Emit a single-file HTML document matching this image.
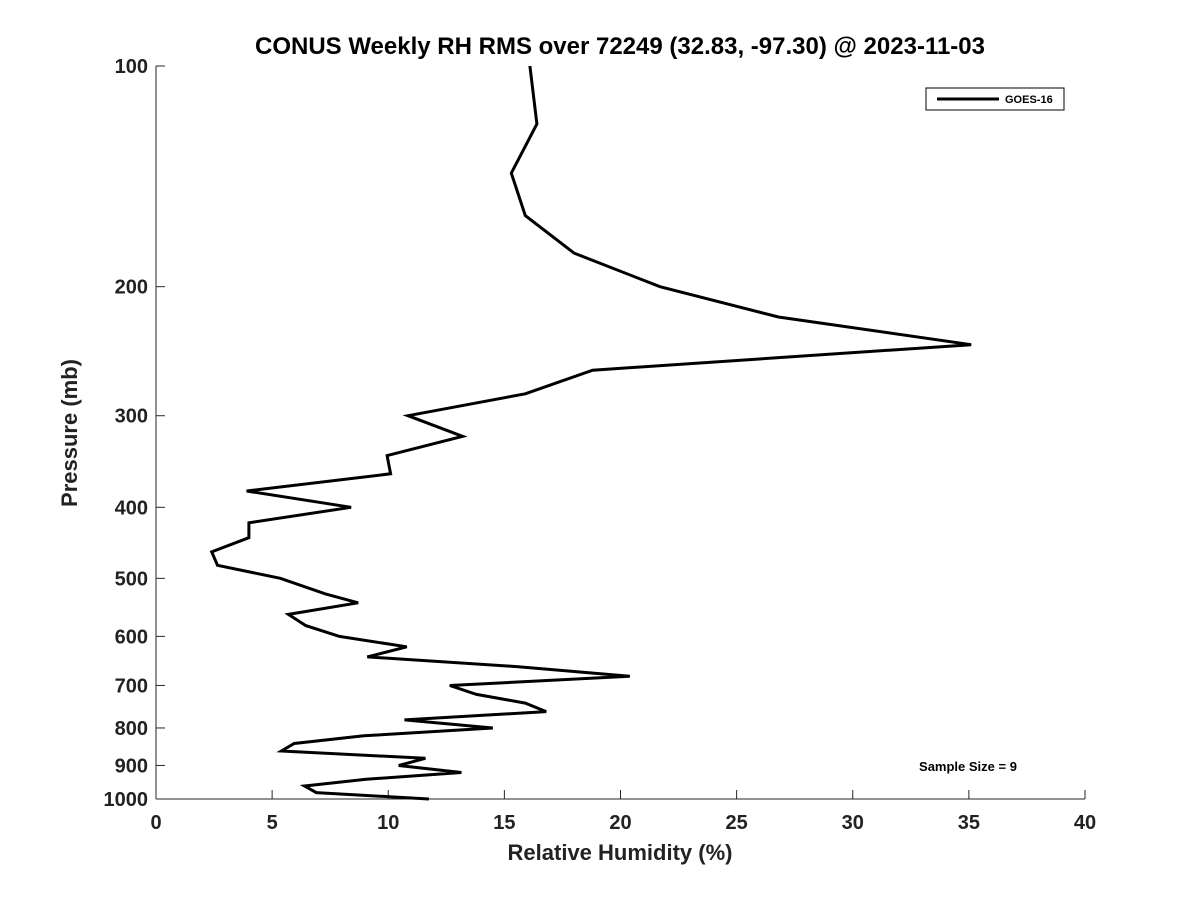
<!DOCTYPE html>
<html><head><meta charset="utf-8"><style>
body{margin:0;background:#fff;}
svg{display:block;font-family:"Liberation Sans","DejaVu Sans",sans-serif;}
</style></head><body>
<svg width="1200" height="900" xmlns="http://www.w3.org/2000/svg">
<rect width="1200" height="900" fill="#fff"/>
<text x="620" y="54" text-anchor="middle" font-size="24" font-weight="bold" fill="#000">CONUS Weekly RH RMS over 72249 (32.83, -97.30) @ 2023-11-03</text>
<g id="axes"></g>
<path id="line" fill="none" stroke="#000" stroke-width="3" stroke-linejoin="miter"/>
<g>
<rect x="926" y="88" width="138" height="22" fill="#fff" stroke="#000" stroke-width="1"/>
<line x1="937" y1="99" x2="999" y2="99" stroke="#000" stroke-width="3"/>
<text x="1005" y="103" font-size="11" font-weight="bold">GOES-16</text>
</g>
<text x="968" y="771" text-anchor="middle" font-size="13" font-weight="bold">Sample Size = 9</text>
<text x="620" y="860" text-anchor="middle" font-size="22" font-weight="bold" fill="#222">Relative Humidity (%)</text>
<text x="0" y="0" transform="translate(77,433) rotate(-90)" text-anchor="middle" font-size="22" font-weight="bold" fill="#222">Pressure (mb)</text>
</svg>
<script>
const pressures=[100,120,140,160,180,200,220,240,260,280,300,320,340,360,380,400,420,440,460,480,500,525,540,560,580,600,620,640,660,680,700,720,740,760,780,800,820,840,860,880,900,920,940,960,980,1000];
const rhValues=[16.1,16.4,15.3,15.9,18.0,21.7,26.8,35.1,18.8,15.9,10.85,13.2,9.95,10.1,3.9,8.4,4.0,4.0,2.4,2.65,5.35,7.3,8.7,5.7,6.45,7.9,10.8,9.1,15.6,20.4,12.65,13.8,15.9,16.8,10.7,14.5,8.95,5.95,5.4,11.6,10.45,13.15,9.05,6.4,6.9,11.75];
const xTicks=[0,5,10,15,20,25,30,35,40];
const yTicks=[100,200,300,400,500,600,700,800,900,1000];
const X0=156,X1=1085,Y0=66,Y1=799;
function xs(v){return X0+(v-0)/(40-0)*(X1-X0);}
function ys(p){return Y0+(Math.log10(p)-2)/(1)*(Y1-Y0);}
const NS="http://www.w3.org/2000/svg";
const ax=document.getElementById('axes');
function mk(t,a){const e=document.createElementNS(NS,t);for(const k in a)e.setAttribute(k,a[k]);ax.appendChild(e);return e;}
let e=mk('line',{x1:X0,y1:Y1,x2:X1,y2:Y1,stroke:'#262626','stroke-width':1});


e=mk('line',{x1:X0,y1:Y0,x2:X0,y2:Y1,stroke:'#262626','stroke-width':1});


xTicks.forEach(v=>{
 mk('line',{x1:xs(v),y1:Y1,x2:xs(v),y2:Y1-9,stroke:'#262626'});
 const t=mk('text',{x:xs(v),y:Y1+30,'text-anchor':'middle','font-size':20,'font-weight':'bold',fill:'#222'});
 t.textContent=v;
 
 
});
yTicks.forEach(p=>{
 mk('line',{x1:X0,y1:ys(p),x2:X0+9,y2:ys(p),stroke:'#262626'});
 const t=mk('text',{x:X0-8,y:ys(p)+7,'text-anchor':'end','font-size':20,'font-weight':'bold',fill:'#222'});
 t.textContent=p;
 
 
});
document.getElementById('line').setAttribute('d',pressures.map((p,i)=>(i?'L':'M')+xs(rhValues[i]).toFixed(1)+' '+ys(p).toFixed(1)).join(' '));
</script>
</body></html>
